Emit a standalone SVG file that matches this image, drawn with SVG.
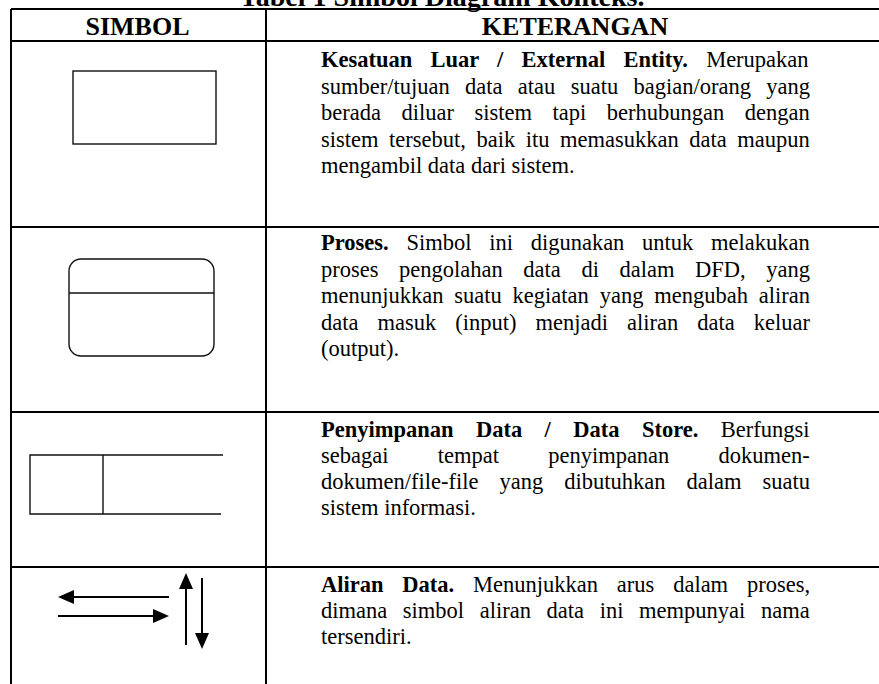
<svg xmlns="http://www.w3.org/2000/svg" width="879" height="684" viewBox="0 0 879 684">
<style>
.grid{stroke:#000;stroke-width:2;fill:none}
.sym{stroke:#111;stroke-width:1.4;fill:none}
.arr{stroke:#000;stroke-width:2;fill:none}
text{font-family:"Liberation Serif","Times New Roman",serif;font-size:22.5px;fill:#000}
.b{font-weight:bold}
.c{text-anchor:middle}
.h{font-size:26px}
</style>
<defs>
<marker id="ah" markerUnits="userSpaceOnUse" markerWidth="16" markerHeight="14" refX="0" refY="7" orient="auto">
<path d="M0,0 L16,7 L0,14 z" fill="#000"/>
</marker>
</defs>
<g id="title"><text class="b c" x="442" y="6" style="font-size:27px" textLength="405" lengthAdjust="spacingAndGlyphs">Tabel 1 Simbol Diagram Konteks.</text></g>
<g id="table-grid">
<path class="grid" d="M11,9 H879 M11,41 H879 M11,227 H879 M11,412 H879 M11,567 H879 M11,9 V684 M266,9 V684"/>
</g>
<g id="header">
<text class="b c h" x="137.5" y="35">SIMBOL</text>
<text class="b c h" x="575" y="35">KETERANGAN</text>
</g>
<g id="row-entity">
<rect class="sym" x="73" y="71" width="143" height="73"/>
<text x="321" y="67" style="word-spacing:12.6px"><tspan class="b">Kesatuan Luar / External Entity.</tspan> Merupakan</text>
<text x="321" y="93.5" style="word-spacing:9.7px">sumber/tujuan data atau suatu bagian/orang yang</text>
<text x="321" y="120" style="word-spacing:14.9px">berada diluar sistem tapi berhubungan dengan</text>
<text x="321" y="146.5" style="word-spacing:4.9px">sistem tersebut, baik itu memasukkan data maupun</text>
<text x="321" y="173">mengambil data dari sistem.</text>
</g>
<g id="row-process">
<rect class="sym" x="69" y="259" width="145" height="97" rx="12"/>
<line class="sym" x1="69" y1="293" x2="214" y2="293"/>
<text x="321" y="250" style="word-spacing:12.1px"><tspan class="b">Proses.</tspan> Simbol ini digunakan untuk melakukan</text>
<text x="321" y="276.5" style="word-spacing:14.95px">proses pengolahan data di dalam DFD, yang</text>
<text x="321" y="303" style="word-spacing:5.2px">menunjukkan suatu kegiatan yang mengubah aliran</text>
<text x="321" y="329.5" style="word-spacing:13.4px">data masuk (input) menjadi aliran data keluar</text>
<text x="321" y="356">(output).</text>
</g>
<g id="row-datastore">
<path class="sym" d="M223,455 H30 V514 H221 M103,455 V514"/>
<text x="321" y="437" style="word-spacing:16.8px"><tspan class="b">Penyimpanan Data / Data Store.</tspan> Berfungsi</text>
<text x="321" y="463" style="word-spacing:43.6px">sebagai tempat penyimpanan dokumen-</text>
<text x="321" y="489" style="word-spacing:15.4px">dokumen/file-file yang dibutuhkan dalam suatu</text>
<text x="321" y="515">sistem informasi.</text>
</g>
<g id="row-flow">
<g id="connectors">
<line class="arr" x1="169" y1="597" x2="74" y2="597" marker-end="url(#ah)"/>
<line class="arr" x1="58" y1="616" x2="153" y2="616" marker-end="url(#ah)"/>
<line class="arr" x1="186" y1="645" x2="186" y2="589" marker-end="url(#ah)"/>
<line class="arr" x1="202" y1="578" x2="202" y2="633" marker-end="url(#ah)"/>
</g>
<text x="321" y="592" style="word-spacing:13.2px"><tspan class="b">Aliran Data.</tspan> Menunjukkan arus dalam proses,</text>
<text x="321" y="618" style="word-spacing:10px">dimana simbol aliran data ini mempunyai nama</text>
<text x="321" y="644">tersendiri.</text>
</g>
</svg>
